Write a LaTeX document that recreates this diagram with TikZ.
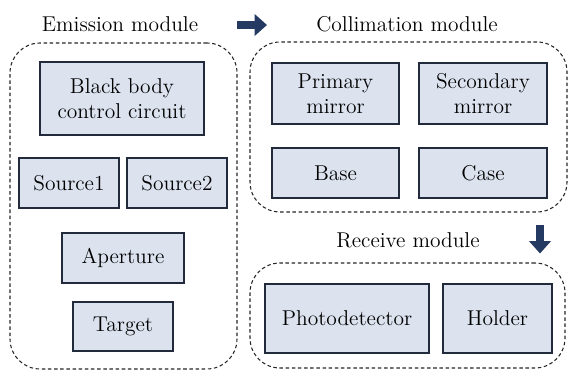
\documentclass[tikz,border=0pt]{standalone}
\usepackage{xcolor}
\usepackage{tikz}
\usetikzlibrary{positioning, arrows.meta}

\definecolor{boxfill}{HTML}{DCE3EF}
\definecolor{boxline}{HTML}{222B3C}
\definecolor{navy}{HTML}{243A63}

\tikzset{
	part/.style={draw=boxline, line width=0.8pt, fill=boxfill, rectangle, align=center, inner sep=0pt},
	module/.style={draw=black!85, dashed, dash pattern=on 2pt off 1.5pt, line width=0.6pt, rectangle, rounded corners=0.6cm, inner sep=0pt},
	title/.style={inner sep=0pt},
	bigarrow/.style={draw=navy, line width=4.2pt, -{Triangle[length=7pt, width=12pt]}}
}

\begin{document}
\begin{tikzpicture}[font=\rmfamily\fontsize{12.2}{14.4}\selectfont]
		\useasboundingbox (0,0) rectangle (11.38,-7.4);

		% Modules
		\node (emission) [module, minimum width=4.54cm, minimum height=6.52cm] at (2.47,-4.12) {};
		\node (collimation) [module, minimum width=6.34cm, minimum height=3.4cm] at (8.17,-2.54) {};
		\node (receive) [module, minimum width=6.3cm, minimum height=2.1cm] at (8.15,-6.31) {};

		% Titles
		\node (emission_t) [title] at (2.4,-0.48) {Emission module};
		\node (collimation_t) [title] at (8.14,-0.48) {Collimation module};
		\node (receive_t) [title] at (8.16,-4.8) {Receive module};

		% Emission parts
		\node (blackbody) [part, minimum width=3.28cm, minimum height=1.46cm] at (2.44,-1.97) {Black body\\control circuit};
		\node (source1) [part, minimum width=2cm, minimum height=1cm] at (1.38,-3.66) {Source1};
		\node (source2) [part, minimum width=2cm, minimum height=1cm] at (3.54,-3.66) {Source2};
		\node (aperture) [part, minimum width=2.44cm, minimum height=1cm] at (2.46,-5.16) {Aperture};
		\node (target) [part, minimum width=2cm, minimum height=0.98cm] at (2.46,-6.53) {Target};

		% Collimation parts
		\node (primary) [part, minimum width=2.54cm, minimum height=1.22cm] at (6.71,-1.87) {Primary\\mirror};
		\node (secondary) [part, minimum width=2.56cm, minimum height=1.22cm] at (9.66,-1.87) {Secondary\\mirror};
		\node (base) [part, minimum width=2.54cm, minimum height=1cm] at (6.71,-3.46) {Base};
		\node (case) [part, minimum width=2.56cm, minimum height=1cm] at (9.66,-3.46) {Case};

		% Receive parts
		\node (photodetector) [part, minimum width=3.28cm, minimum height=1.38cm] at (6.94,-6.37) {Photodetector};
		\node (holder) [part, minimum width=2.18cm, minimum height=1.38cm] at (9.95,-6.37) {Holder};

		% Arrows
		\coordinate (right_a) at (4.74,-0.5);
		\coordinate (right_b) at (5.34,-0.5);
		\coordinate (down_a) at (10.8,-4.5);
		\coordinate (down_b) at (10.8,-5.07);
		\draw[bigarrow] (right_a) -- (right_b);
		\draw[bigarrow] (down_a) -- (down_b);

	\end{tikzpicture}
\end{document}
